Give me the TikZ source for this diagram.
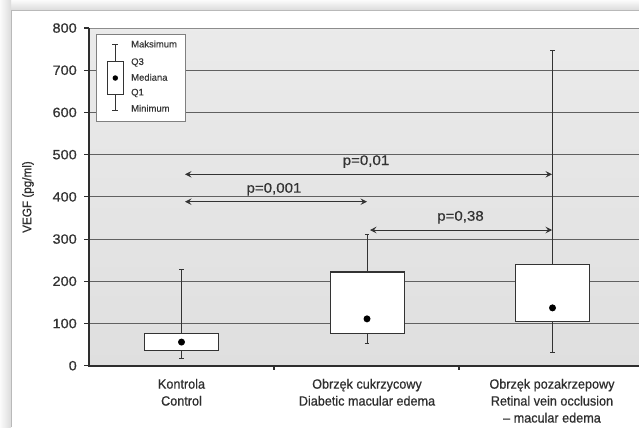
\documentclass[tikz,border=0pt]{standalone}
\usepackage{fontspec}
\setmainfont{Liberation Sans}
\newfontfamily\tickfont[FakeStretch=1.08,FakeBold=0.7]{Liberation Sans}
\newfontfamily\pfont[FakeStretch=1.08,FakeBold=0.5]{Liberation Sans}
\newfontfamily\catfont[FakeStretch=0.94,FakeBold=0.6]{Liberation Sans}
\newfontfamily\legfont[FakeBold=0.3]{Liberation Sans}
\usetikzlibrary{arrows.meta}
\begin{document}
\begin{tikzpicture}[x=1bp,y=-1bp,
  gridline/.style={draw=black!62, line width=0.8bp},
  axisline/.style={draw=black!82, line width=1.6bp},
  boxst/.style={draw=black!80, fill=white, line width=1.1bp},
  whisk/.style={draw=black!80, line width=1bp},
  meddot/.style={fill=black, circle, inner sep=0pt, minimum size=7bp},
  parrow/.style={draw=black!80, line width=0.8bp, {Stealth[length=6.5bp,width=6.5bp,inset=2.5bp]}-{Stealth[length=6.5bp,width=6.5bp,inset=2.5bp]}},
  ticklab/.style={anchor=east, inner sep=0pt, font=\tickfont\fontsize{13.5}{16}\selectfont, text=black!80},
  plab/.style={anchor=base, inner sep=0pt, font=\pfont\fontsize{14}{16}\selectfont, text=black!80},
  catlab/.style={anchor=north, inner sep=0pt, align=center, font=\catfont\fontsize{13.5}{17}\selectfont, text=black!82},
  leglab/.style={anchor=west, inner sep=0pt, font=\legfont\fontsize{9.5}{11}\selectfont, text=black!78}
]
\useasboundingbox (0,0) rectangle (639,427);
% outer frame and shadow
\fill[gray!14] (0,0) rectangle (639,427);
\shade[top color=gray!3, bottom color=gray!28] (0,0) rectangle (639,10);
\shade[left color=gray!3, right color=gray!28] (0,0) rectangle (11,427);
\fill[white] (11,10) rectangle (639,427);
\draw[gray!55, line width=1bp] (11,427) -- (11,10) -- (639,10);
% plot area
\shade[top color=gray!16, bottom color=gray!25] (89,28) rectangle (639,365.7);

\begin{scope}[shift={(0,365.7)}, y=0.4221bp]
  % grid lines
  \draw[gridline, draw=black!45] (89,800) -- (639,800);
  \foreach \v in {100,200,...,700} {
    \draw[gridline] (89,\v) -- (639,\v);
  }
  % axes
  \draw[axisline] (89,800) -- (89,0) -- (639,0);
  \foreach \v in {0,100,...,800} {
    \draw[axisline, line width=1.1bp] (84,\v) -- (89,\v);
    \node[ticklab] at (77,\v) {\v};
  }
  \draw[axisline, line width=1.1bp] (274,0) -- (274,-10);
  \draw[axisline, line width=1.1bp] (459,0) -- (459,-10);

  % box 1: Kontrola
  \draw[whisk] (181.5,17.5) -- (181.5,227);
  \draw[whisk] (179.3,227) -- (183.7,227);
  \draw[whisk] (179.3,17.5) -- (183.7,17.5);
  \draw[boxst] (144.5,36.5) rectangle (218.5,77);
  \node[meddot] (m1) at (181.5,56) {};

  % box 2: Diabetic
  \draw[whisk] (367,52) -- (367,311);
  \draw[whisk] (364.8,311) -- (369.2,311);
  \draw[whisk] (364.8,52) -- (369.2,52);
  \draw[boxst] (330.5,77) rectangle (404.5,222);
  \node[meddot] (m2) at (367,111) {};

  % box 3: Retinal
  \draw[whisk] (552.5,31) -- (552.5,746);
  \draw[whisk] (550.3,746) -- (554.7,746);
  \draw[whisk] (550.3,31) -- (554.7,31);
  \draw[boxst] (515.5,104) rectangle (589.5,240);
  \node[meddot] (m3) at (552.5,137) {};

  % arrows
  \coordinate (a1L) at (185,453.5);
  \coordinate (a1R) at (552,453.5);
  \coordinate (a2L) at (185,388.5);
  \coordinate (a2R) at (367,388.5);
  \coordinate (a3L) at (370,321.5);
  \coordinate (a3R) at (552,321.5);
  \draw[parrow] (a1L) -- (a1R);
  \draw[parrow] (a2L) -- (a2R);
  \draw[parrow] (a3L) -- (a3R);
\end{scope}

\node[plab] (p1) at (366,165) {p=0,01};
\node[plab] (p2) at (274,192.7) {p=0,001};
\node[plab] (p3) at (460.5,220.7) {p=0,38};

% legend
\draw[fill=white, draw=black!50, line width=0.8bp] (96.7,34) rectangle (185.7,121.7);
\draw[whisk, line width=0.9bp] (115.3,44) -- (115.3,110.7);
\draw[whisk, line width=0.9bp] (112.3,44) -- (118.3,44);
\draw[whisk, line width=0.9bp] (112.3,110.7) -- (118.3,110.7);
\draw[boxst, line width=0.9bp] (107.3,61.7) rectangle (123.3,94);
\node[meddot, minimum size=5.5bp] (lm) at (115.3,78) {};
\node[leglab] (l1) at (131,44) {Maksimum};
\node[leglab] (l2) at (131,62.5) {Q3};
\node[leglab] (l3) at (131,77.3) {Mediana};
\node[leglab] (l4) at (131,93) {Q1};
\node[leglab] (l5) at (131,108.3) {Minimum};

% axis title
\node[rotate=90, font=\catfont\fontsize{12.5}{14}\selectfont, text=black!82] (yt) at (28,197) {VEGF (pg/ml)};

% category labels
\node[catlab] (c1) at (181.5,378.7) {Kontrola\\Control};
\node[catlab] (c2) at (367,378.7) {Obrzęk cukrzycowy\\Diabetic macular edema};
\node[catlab] (c3) at (552,378.7) {Obrzęk pozakrzepowy\\Retinal vein occlusion\\– macular edema};
\end{tikzpicture}
\end{document}
